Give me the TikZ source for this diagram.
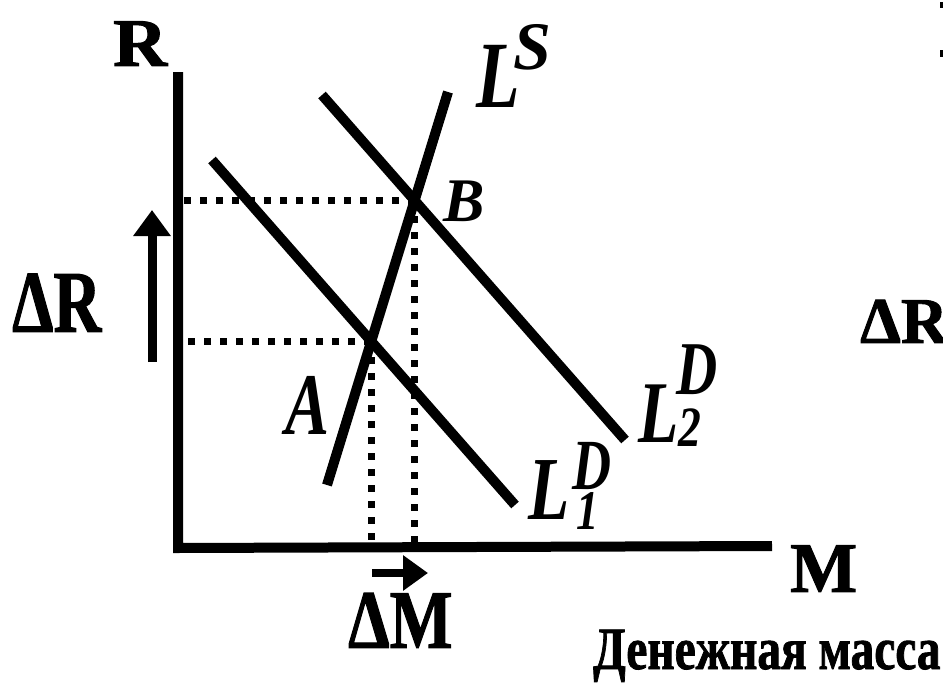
\documentclass[tikz,border=0pt]{standalone}
\usepackage{fontspec}
\setmainfont[BoldFeatures={FakeBold=1.5}]{Liberation Serif}
\usetikzlibrary{intersections,arrows.meta}
\newcommand\lfs[1]{\fontsize{#1}{#1}\selectfont}
\begin{document}
\begin{tikzpicture}[x=1pt,y=-1pt,
  curve/.style={line width=10pt},
  axisline/.style={line width=10pt},
  guide/.style={line width=7pt, dash pattern=on 7pt off 9pt},
  lbl/.style={inner sep=0pt, anchor=south west, font=\bfseries},
  ilbl/.style={inner sep=0pt, anchor=south west, font=\bfseries\itshape},
  arr/.style={line width=9pt,-{Triangle[width=36pt,length=26pt]}},
  ]
\clip (0,0) rectangle (943,688);
\fill[white] (0,0) rectangle (943,688);
% axes
\coordinate (Ytop) at (178,72);
\coordinate (O) at (178,548);
\coordinate (Xend) at (772,546);
\draw[axisline] (Ytop) -- (O) -- (Xend);
% curves
\coordinate (ls1) at (327,485);
\coordinate (ls2) at (448,92);
\coordinate (d1a) at (212,160);
\coordinate (d1b) at (515,505);
\coordinate (d2a) at (322,95);
\coordinate (d2b) at (625,440);
\draw[curve, name path=LS] (ls1) -- (ls2);
\draw[curve, name path=D1] (d1a) -- (d1b);
\draw[curve, name path=D2] (d2a) -- (d2b);
\path[name intersections={of=LS and D1, by=A}];
\path[name intersections={of=LS and D2, by=B}];
% guides
\draw[guide] (A) -- (A -| O);
\draw[guide] (A) -- (A |- O);
\draw[guide] (B) -- (B -| O);
\draw[guide] (B) -- (B |- O);
% arrows
\coordinate (dRb) at (152,362);
\coordinate (dRt) at (152,210);
\draw[arr] (dRb) -- (dRt);
\coordinate (dMl) at (372,573);
\coordinate (dMr) at (428,573);
\draw[line width=8pt,-{Triangle[width=34pt,length=25pt]}] (dMl) -- (dMr);
% labels
\node[lbl, xscale=1.1] (lR) at (113,66) {\lfs{68}R};
\node[lbl, xscale=0.75] (ldR) at (12,332) {\lfs{88}ΔR};
\node[lbl] (rdR) at (860,343) {\lfs{65}ΔR};
\node[lbl, xscale=0.8] (ldM) at (348,648) {\lfs{83}ΔM};
\node[lbl] (lM) at (790,592) {\lfs{71}M};
\node[lbl, xscale=0.79] (lmass) at (593,682) {\lfs{60}Денежная масса};
\node[ilbl, xscale=0.75] (lL) at (476,108) {\lfs{95}L};
\node[ilbl] (lS) at (513,70) {\lfs{68}S};
\node[ilbl] (lB) at (443,222) {\lfs{62}B};
\node[ilbl, xscale=0.75] (lA) at (285,435) {\lfs{88}A};
\node[ilbl, xscale=0.75] (l1L) at (528,520) {\lfs{90}L};
\node[ilbl, xscale=0.75] (l1D) at (572,490) {\lfs{72}D};
\node[ilbl, xscale=0.8] (l1s) at (576,530) {\lfs{56}1};
\node[ilbl, xscale=0.75] (l2L) at (638,443) {\lfs{88}L};
\node[ilbl, xscale=0.75] (l2D) at (676,395) {\lfs{76}D};
\node[ilbl, xscale=0.8] (l2s) at (678,447) {\lfs{57}2};
% edge fragments
\fill (940,2) rectangle (943,8);
\fill (940,50) rectangle (943,57);
\end{tikzpicture}
\end{document}
